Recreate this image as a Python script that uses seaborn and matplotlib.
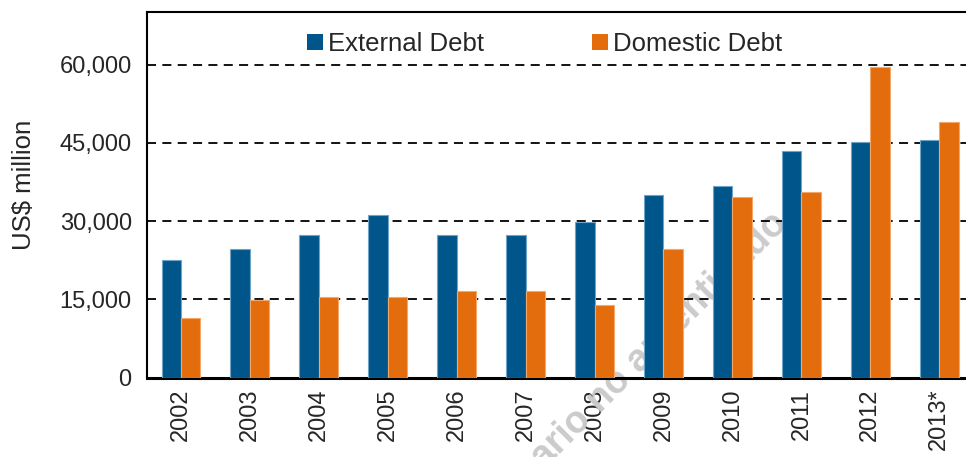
import pandas as pd
import matplotlib
matplotlib.use("Agg")
import matplotlib.pyplot as plt
import seaborn as sns

# values (US$ million)
years = ["2002", "2003", "2004", "2005", "2006", "2007",
         "2008", "2009", "2010", "2011", "2012", "2013*"]
external_debt = [22500, 24700, 27300, 31200, 27300, 27300,
                 29900, 35000, 36800, 43400, 45200, 45600]
domestic_debt = [11500, 14800, 15500, 15500, 16600, 16600,
                 14000, 24700, 34600, 35600, 59500, 48900]
y_ticks = [0, 15000, 30000, 45000, 60000]

BLUE = "#00568A"
ORANGE = "#E36C0C"

df = pd.DataFrame({
    "year": years * 2,
    "value": external_debt + domestic_debt,
    "series": ["External Debt"] * len(years) + ["Domestic Debt"] * len(years),
})

sns.set_style("white")
plt.rcParams["font.family"] = ["Liberation Sans", "DejaVu Sans"]

fig = plt.figure(figsize=(9.66, 4.57), dpi=100)
ax = fig.add_axes([0.1522, 0.1735, 0.848, 0.7995])

sns.barplot(data=df, x="year", y="value", hue="series", order=years,
            palette=[BLUE, ORANGE], width=0.56, saturation=1,
            linewidth=0.8, ax=ax, zorder=3)

# thin lighter outline around each bar, as in the original
blue_r = matplotlib.colors.to_rgba(BLUE)[0]
for p in ax.patches:
    if abs(p.get_facecolor()[0] - blue_r) < 0.05:
        p.set_edgecolor("#6fa3c8")
    else:
        p.set_edgecolor("#f3a86a")

ax.set_xlim(-0.49, 11.39)
ax.set_ylim(0, 70000)
ax.set_yticks(y_ticks)
ax.set_yticklabels([f"{v:,}" for v in y_ticks], fontsize=17)
ax.tick_params(axis="y", direction="out", length=7, width=1.3, color="black", pad=4)
ax.tick_params(axis="x", length=0, pad=8, labelsize=17)
plt.setp(ax.get_xticklabels(), rotation=90)

ax.set_xlabel("")
ax.set_ylabel("US$ million", fontsize=18.5)
ax.yaxis.set_label_coords(-0.135, 0.527)

for v in y_ticks[1:]:
    ax.axhline(v, color="black", linestyle=(0, (5, 3.5)), linewidth=1.3, zorder=1)

for side in ["left", "top", "bottom"]:
    ax.spines[side].set_color("black")
ax.spines["left"].set_linewidth(1.5)
ax.spines["top"].set_linewidth(1.5)
ax.spines["bottom"].set_linewidth(2.2)
ax.spines["right"].set_visible(False)

leg = ax.legend(loc="center left", bbox_to_anchor=(0.1954, 0.913), ncol=2,
                frameon=False, fontsize=18.5, handlelength=0.62,
                handleheight=0.62, handletextpad=0.2, columnspacing=4.2,
                borderaxespad=0, borderpad=0)
for h in leg.legend_handles:
    h.set_edgecolor("none")

# watermark, behind the bars and the grid
ax.text(0.657, 0.201, "Usuario no autenticado", transform=fig.transFigure,
        rotation=45, ha="center", va="center", fontsize=27, fontweight="bold",
        color="#cbcbcb", zorder=0.8, clip_on=False)

fig.savefig("out.png", dpi=100)
